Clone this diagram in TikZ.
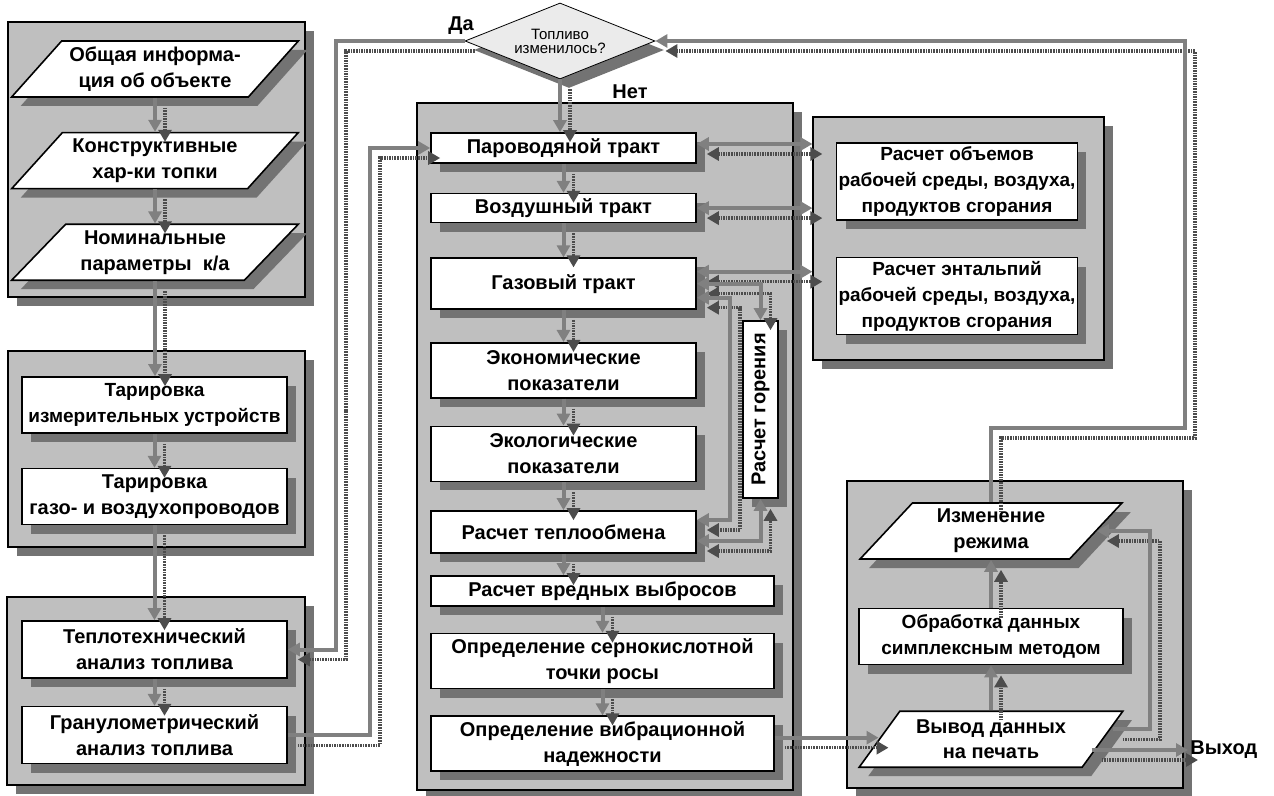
\documentclass[tikz,border=0pt]{standalone}
\usepackage{fontspec}
\setmainfont{Liberation Sans}
\usepackage{graphicx}
\usetikzlibrary{shapes.geometric,arrows.meta,positioning,fit,shadows}

\begin{document}
\begin{tikzpicture}[
    x=0.5pt, y=-0.5pt,
    boxshadow/.style={drop shadow={shadow xshift=4.5pt, shadow yshift=-4.5pt, fill=black!55, opacity=1}},
    panel/.style={draw, line width=0.6pt, fill=black!25, inner sep=0pt, boxshadow},
    box/.style={draw, line width=0.8pt, fill=white, align=center, inner sep=1pt, minimum width=132.5pt, font=\bfseries\fontsize{10}{13}\selectfont, boxshadow},
    narrowtext/.style={font=\bfseries\fontsize{9.5}{13}\selectfont},
    wide/.style={minimum width=171.5pt},
    slab/.style={box, shape=trapezium, trapezium stretches=true, trapezium left angle=46, trapezium right angle=134, minimum width=143.5pt, minimum height=28pt},
    slabout/.style={minimum width=132pt, trapezium left angle=52, trapezium right angle=128},
    query/.style={draw, shape=diamond, fill=black!8, aspect=2.5, inner sep=0pt, minimum width=95pt, minimum height=38pt, align=center, font=\fontsize{7.5}{7}\selectfont, boxshadow},
    lbl/.style={font=\bfseries\fontsize{10}{12}\selectfont, inner sep=1pt},
    arrow/.style={draw=black!50, line width=2pt, -{Triangle[length=6pt,width=6.5pt]}, preaction={draw=black!70, line width=1.6pt, dash pattern=on 0.8pt off 0.5pt, transform canvas={shift={(5pt,-5pt)}}}},
    twoway/.style={arrow, {Triangle[length=6pt,width=6.5pt]}-{Triangle[length=6pt,width=6.5pt]}}
  ]
    \useasboundingbox (0,0) rectangle (1274,796);

    % Панели
    \node[panel, fit={(8,22) (305,297)}] (pinfo) {};
    \node[panel, fit={(8,351) (305,547)}] (ptar) {};
    \node[panel, fit={(7,597) (305,785)}] (pfuel) {};
    \node[panel, fit={(417,103) (793,790)}] (pmain) {};
    \node[panel, fit={(813,117) (1104,360)}] (pcalc) {};
    \node[panel, fit={(847,481) (1183,788)}] (pout) {};

    % Исходные данные
    \node[slab] (info) at (155,69) {Общая информа-\\ция об объекте};
    \node[slab, below=17pt of info] (konstr) {Конструктивные\\хар-ки топки};
    \node[slab, below=17pt of konstr] (nomin) {Номинальные\\параметры\ \ к/а};

    % Тарировка
    \node[box, narrowtext, minimum height=28pt] (tar1) at (154.5,405) {Тарировка\\измерительных устройств};
    \node[box, minimum height=28pt, below=17pt of tar1] (tar2) {Тарировка\\газо- и воздухопроводов};

    % Топливо
    \node[box, minimum height=28.5pt] (teplo) at (154.5,649.5) {Теплотехнический\\анализ топлива};
    \node[box, minimum height=28.5pt, below=13.5pt of teplo] (gran) {Гранулометрический\\анализ топлива};

    % Условие
    \node[query] (fuelq) at (560,41) {Топливо\\изменилось?};
    \node[lbl] (yes) at (461,26) {Да};
    \node[lbl] (no) at (630,92) {Нет};

    % Тракты
    \node[box, minimum height=15pt] (parovod) at (563.5,148) {Пароводяной тракт};
    \node[box, minimum height=14.5pt, below=14.5pt of parovod] (vozd) {Воздушный тракт};
    \node[box, minimum height=25.5pt, below=17pt of vozd] (gaz) {Газовый тракт};
    \node[box, minimum height=27.5pt, below=16pt of gaz] (econ) {Экономические\\показатели};
    \node[box, minimum height=27.5pt, below=13.5pt of econ] (ecol) {Экологические\\показатели};
    \node[box, minimum height=21pt, below=14pt of ecol] (heat) {Расчет теплообмена};
    \node[box, wide, minimum height=15pt] (harm) at (602.5,591) {Расчет вредных выбросов};
    \node[box, wide, minimum height=27.5pt, below=13pt of harm] (dew) {Определение сернокислотной\\точки росы};
    \node[box, wide, minimum height=27.5pt, below=13pt of dew] (vibr) {Определение вибрационной\\надежности};
    \node[box, minimum width=17.5pt, minimum height=88.5pt] (burn) at (760.5,409.5) {\rotatebox{90}{Расчет горения}};

    % Расчеты
    \node[box, narrowtext, minimum width=120pt, minimum height=38.5pt] (volume) at (957,181.5) {Расчет объемов\\рабочей среды, воздуха,\\продуктов сгорания};
    \node[box, narrowtext, minimum width=120pt, minimum height=38.5pt, below=18pt of volume] (enthalpy) {Расчет энтальпий\\рабочей среды, воздуха,\\продуктов сгорания};

    % Вывод
    \node[slab, slabout] (mode) at (991,531) {Изменение\\режима};
    \node[box, narrowtext, minimum width=132pt, minimum height=28pt, below=24pt of mode] (simplex) {Обработка данных\\симплексным методом};
    \node[slab, slabout, below=22.5pt of simplex] (print) {Вывод данных\\на печать};
    \node[lbl, anchor=west] (exit) at (1188,750) {Выход};

    % Arrows
    \draw[arrow] (info.south) -- (konstr.north);
    \draw[arrow] (konstr.south) -- (nomin.north);
    \draw[arrow] (nomin.south) -- (nomin.south |- tar1.north);
    \draw[arrow] (tar1) -- (tar2);
    \draw[arrow] (tar2) -- (teplo);
    \draw[arrow] (teplo) -- (gran);

    \coordinate (yesbus) at (336,400);
    \coordinate (granbus) at (370,400);
    \draw[arrow] (fuelq.west) -| (yesbus) |- (teplo.east);
    \draw[arrow] (gran.east) -| (granbus) |- (parovod.west);
    \draw[arrow] (fuelq.south) -- (fuelq.south |- parovod.north);

    \draw[arrow] (parovod) -- (vozd);
    \draw[arrow] (vozd) -- (gaz);
    \draw[arrow] (gaz) -- (econ);
    \draw[arrow] (econ) -- (ecol);
    \draw[arrow] (ecol) -- (heat);
    \draw[arrow] (heat.south) -- (heat.south |- harm.north);
    \draw[arrow] (harm) -- (dew);
    \draw[arrow] (dew) -- (vibr);

    \draw[twoway] ([yshift=2pt]parovod.east) -- ([yshift=2pt]parovod.east -| pcalc.west);
    \draw[twoway] (vozd.east) -- (vozd.east -| pcalc.west);
    \draw[twoway] ([yshift=6pt]gaz.east) -- ([yshift=6pt]gaz.east -| pcalc.west);
    \draw[twoway] (gaz.east) -| (burn.north);
    \coordinate (gazbus) at (730,400);
    \draw[twoway] ([yshift=-7pt]gaz.east) -| (gazbus) |- ([yshift=6pt]heat.east);
    \draw[twoway] ([yshift=-4.5pt]heat.east) -| (burn.south);

    \draw[arrow] ([yshift=3pt]vibr.east) -- ([yshift=3pt]vibr.east -| print.west);
    \draw[arrow] (print.north -| simplex.south) -- (simplex.south);
    \draw[arrow] (simplex.north) -- (simplex.north |- mode.south);
    \coordinate (loopx) at (1150,630);
    \draw[arrow] ([shift={(4.5pt,5pt)}]print.east) -| (loopx) |- (mode.east);
    \draw[arrow] ([xshift=-6pt]print.east |- exit.west) -- (exit.west);
    \coordinate (backbus) at (1185,428);
    \draw[arrow] (mode.north -| simplex.north) |- (backbus) |- (fuelq.east);
\end{tikzpicture}
\end{document}
